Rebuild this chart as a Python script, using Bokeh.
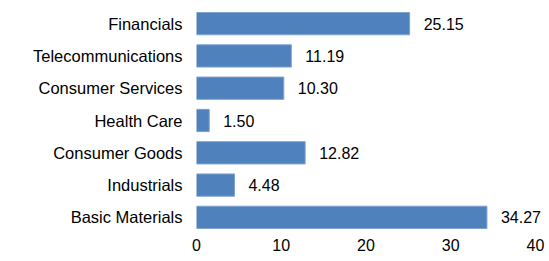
from bokeh.plotting import figure
from bokeh.models import ColumnDataSource, FixedTicker, LabelSet
from bokeh.embed import file_html
from bokeh.resources import INLINE
from bokeh.core.properties import value

categories = ["Financials", "Telecommunications", "Consumer Services", "Health Care",
              "Consumer Goods", "Industrials", "Basic Materials"]
values = [25.15, 11.19, 10.30, 1.50, 12.82, 4.48, 34.27]
labels = ["25.15", "11.19", "10.30", "1.50", "12.82", "4.48", "34.27"]
x_ticks = [0, 10, 20, 30, 40]

src = ColumnDataSource(dict(cat=categories, val=values, lab=labels))

p = figure(width=549, height=253, y_range=list(reversed(categories)), x_range=(0, 41.18),
           output_backend="svg", toolbar_location=None,
           min_border_left=196, min_border_right=4, min_border_top=7, min_border_bottom=20)
p.hbar(y="cat", right="val", left=0, height=0.69, source=src,
       fill_color="#4F81BD", line_color="#7FA3D0", line_width=1)
ls = LabelSet(x="val", y="cat", text="lab", source=src, x_offset=14,
              text_align="left", text_baseline="middle",
              text_font=value("Liberation Sans"), text_font_size=value("16px"),
              text_color="#000000")
p.add_layout(ls)

p.y_range.range_padding = 0
p.outline_line_color = None
p.grid.visible = False
p.background_fill_color = "white"
p.border_fill_color = "white"

for ax in (p.xaxis[0], p.yaxis[0]):
    ax.axis_line_color = None
    ax.major_tick_line_color = None
    ax.minor_tick_line_color = None
    ax.major_tick_out = 0
    ax.major_tick_in = 0
    ax.major_label_text_font = "Liberation Sans"
    ax.major_label_text_color = "#000000"

p.yaxis.major_label_text_font_size = "16.5px"
p.xaxis.major_label_text_font_size = "16px"
p.xaxis.ticker = FixedTicker(ticks=x_ticks)
p.xaxis.major_label_standoff = 5
p.yaxis.major_label_standoff = 14

open("out.html", "w").write(file_html(p, INLINE))
